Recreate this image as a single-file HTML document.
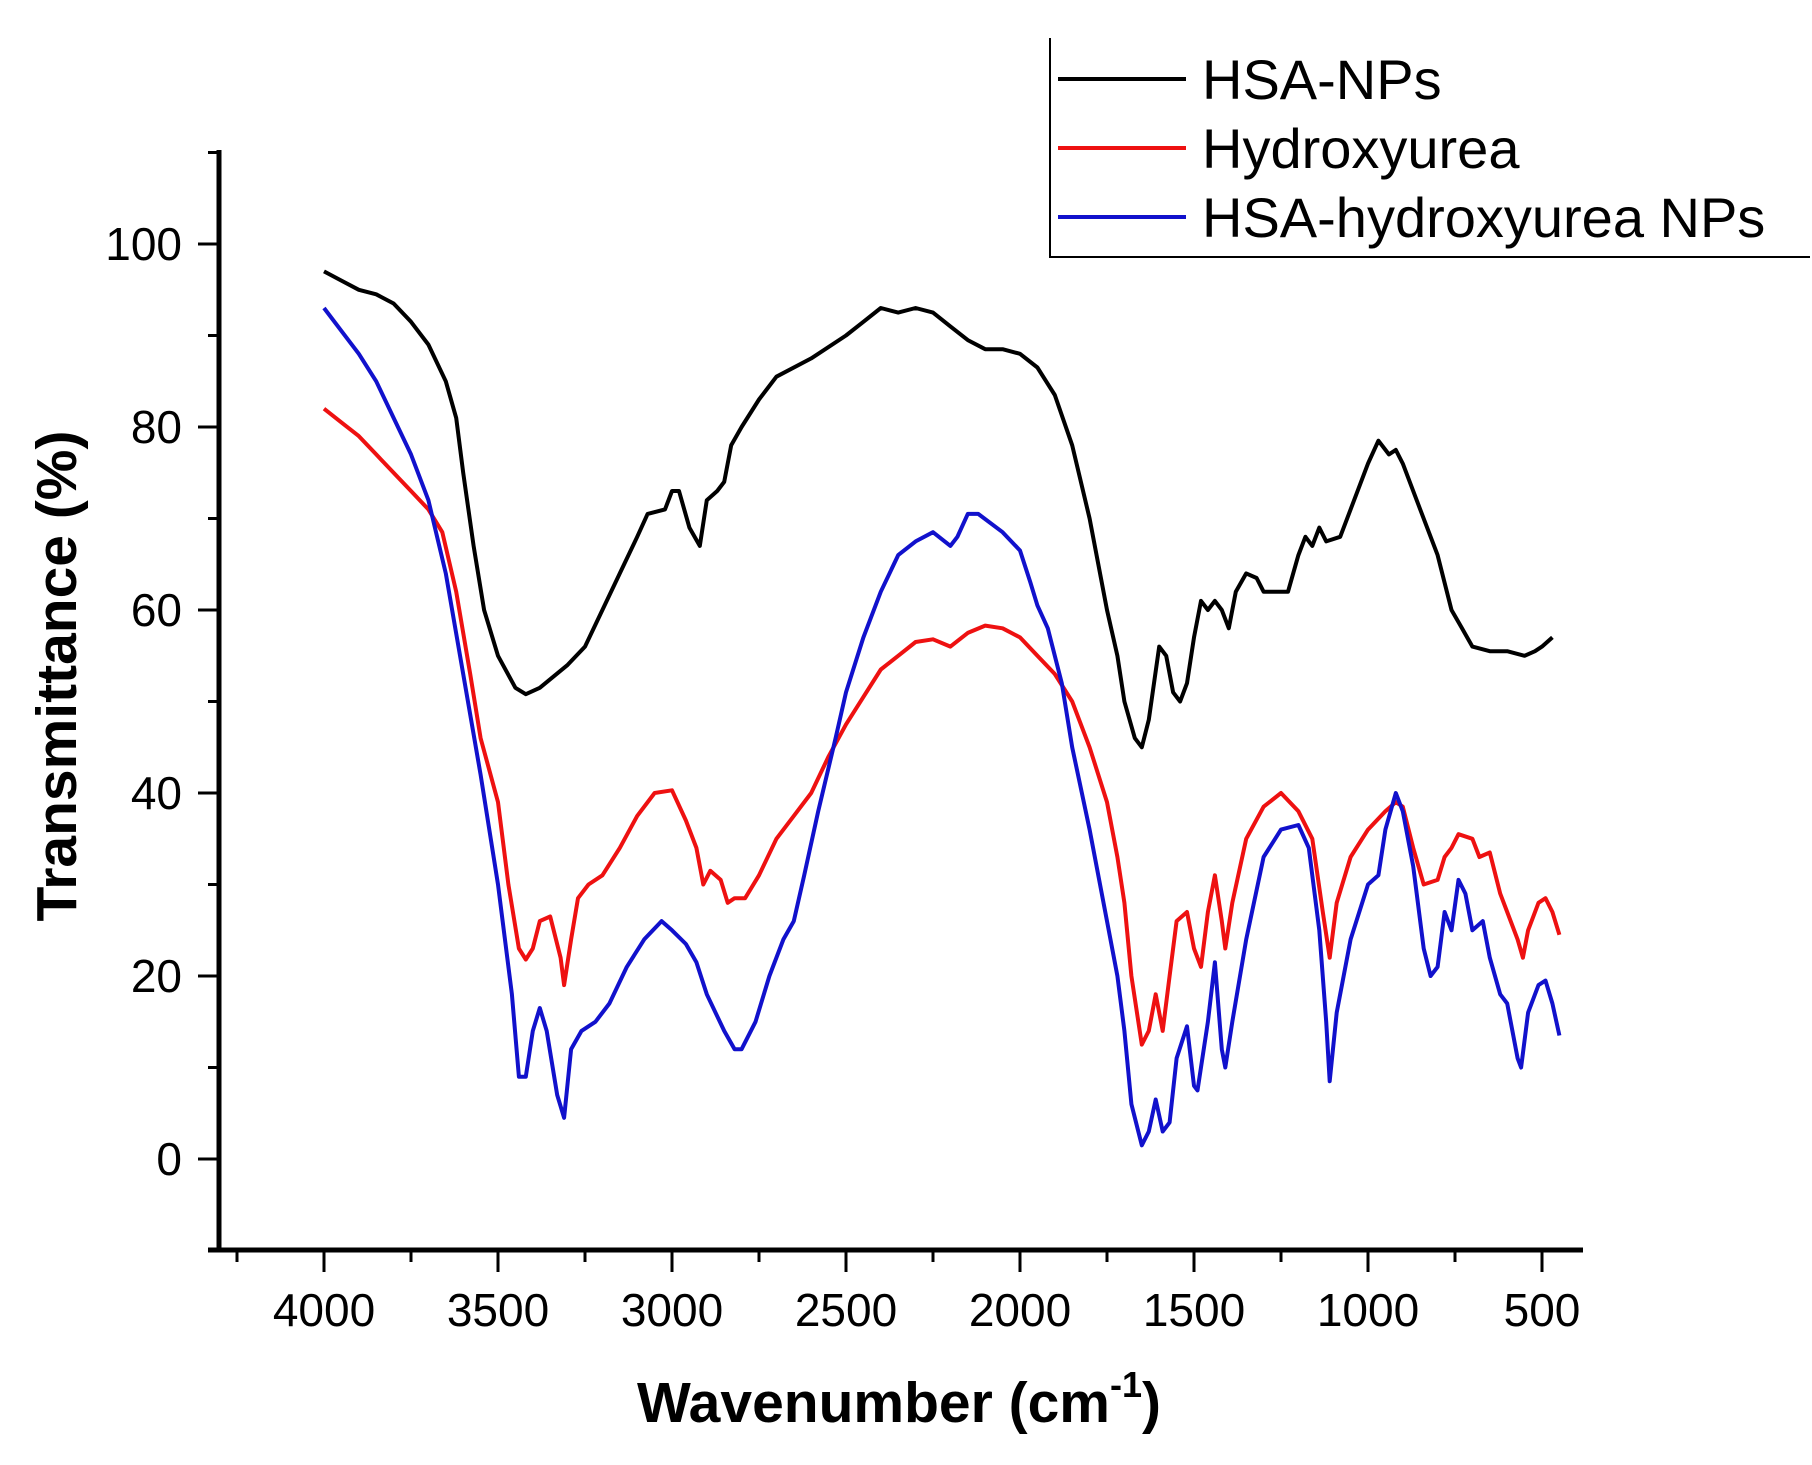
<!DOCTYPE html>
<html><head><meta charset="utf-8"><style>
html,body{margin:0;padding:0;background:#fff;}
svg{display:block;font-family:"Liberation Sans",Arial,sans-serif;}
</style></head><body>
<svg id="chart" width="1812" height="1465" viewBox="0 0 1812 1465" xmlns="http://www.w3.org/2000/svg">
<g id="axes"></g>
<g id="series"></g>
<g>
<line x1="1050" y1="38" x2="1050" y2="258" stroke="#000" stroke-width="2"/>
<line x1="1050" y1="257" x2="1810" y2="257" stroke="#000" stroke-width="2"/>
<line x1="1058" y1="79" x2="1186" y2="79" stroke="#000" stroke-width="4"/>
<text x="1202" y="99" font-size="56">HSA-NPs</text>
<line x1="1058" y1="148" x2="1186" y2="148" stroke="#ee1111" stroke-width="4"/>
<text x="1202" y="168" font-size="56">Hydroxyurea</text>
<line x1="1058" y1="217" x2="1186" y2="217" stroke="#1111cc" stroke-width="4"/>
<text x="1202" y="237" font-size="56">HSA-hydroxyurea NPs</text>
</g>
<text transform="translate(76,676) rotate(-90)" text-anchor="middle" font-size="57" font-weight="bold">Transmittance (%)</text>
<text x="899" y="1422" text-anchor="middle" font-size="57" font-weight="bold">Wavenumber (cm<tspan font-size="36" dy="-25">-1</tspan><tspan dy="25">)</tspan></text>
</svg>
<script>
const xTicks=[4000,3500,3000,2500,2000,1500,1000,500];
const yTicks=[0,20,40,60,80,100];
const wnHSA=[4000,3950,3900,3850,3800,3750,3700,3650,3620,3600,3570,3540,3500,3450,3420,3380,3300,3250,3200,3150,3100,3070,3020,3000,2980,2950,2920,2900,2870,2850,2830,2800,2750,2700,2600,2500,2450,2400,2350,2300,2250,2200,2150,2100,2050,2000,1950,1900,1850,1800,1750,1720,1700,1670,1650,1630,1600,1580,1560,1540,1520,1500,1480,1460,1440,1420,1400,1380,1350,1320,1300,1260,1230,1200,1180,1160,1140,1120,1080,1050,1000,970,940,920,900,850,800,760,730,700,650,600,550,520,500,470];
const tHSA=[97,96,95,94.5,93.5,91.5,89,85,81,75,67,60,55,51.5,50.8,51.5,54,56,60,64,68,70.5,71,73,73,69,67,72,73,74,78,80,83,85.5,87.5,90,91.5,93,92.5,93,92.5,91,89.5,88.5,88.5,88,86.5,83.5,78,70,60,55,50,46,45,48,56,55,51,50,52,57,61,60,61,60,58,62,64,63.5,62,62,62,66,68,67,69,67.5,68,71,76,78.5,77,77.5,76,71,66,60,58,56,55.5,55.5,55,55.5,56,57];
const wnHU=[4000,3950,3900,3850,3800,3750,3700,3660,3620,3580,3550,3500,3470,3440,3420,3400,3380,3350,3320,3310,3290,3270,3240,3200,3150,3100,3050,3000,2960,2930,2910,2890,2860,2840,2820,2790,2750,2700,2650,2600,2550,2500,2450,2400,2350,2300,2250,2200,2150,2100,2050,2000,1950,1900,1850,1800,1750,1720,1700,1680,1650,1630,1610,1590,1570,1550,1520,1500,1480,1460,1440,1420,1410,1390,1350,1300,1250,1200,1160,1130,1110,1090,1050,1000,950,920,900,870,840,800,780,760,740,700,680,650,620,600,570,555,540,510,490,470,450];
const tHU=[82,80.5,79,77,75,73,71,68.5,62,53,46,39,30,23,21.8,23,26,26.5,22,19,24,28.5,30,31,34,37.5,40,40.3,37,34,30,31.5,30.5,28,28.5,28.5,31,35,37.5,40,44,47.5,50.5,53.5,55,56.5,56.8,56,57.5,58.3,58,57,55,53,50,45,39,33,28,20,12.5,14,18,14,20,26,27,23,21,27,31,26,23,28,35,38.5,40,38,35,27,22,28,33,36,38,39,38.5,34,30,30.5,33,34,35.5,35,33,33.5,29,27,24,22,25,28,28.5,27,24.5];
const wnMix=[4000,3950,3900,3850,3800,3750,3700,3650,3600,3550,3500,3460,3440,3420,3400,3380,3360,3330,3310,3290,3260,3220,3180,3130,3080,3030,3000,2960,2930,2900,2850,2820,2800,2760,2720,2680,2650,2620,2580,2530,2500,2450,2400,2350,2300,2250,2200,2180,2150,2120,2050,2000,1970,1950,1920,1880,1850,1800,1750,1720,1700,1680,1650,1630,1610,1590,1570,1550,1520,1500,1490,1460,1440,1420,1410,1390,1350,1300,1250,1200,1170,1140,1120,1110,1090,1050,1000,970,950,920,900,870,840,820,800,780,760,740,720,700,670,650,620,600,570,560,540,510,490,470,450];
const tMix=[93,90.5,88,85,81,77,72,64,53,42,30,18,9,9,14,16.5,14,7,4.5,12,14,15,17,21,24,26,25,23.5,21.5,18,14,12,12,15,20,24,26,31,38,46,51,57,62,66,67.5,68.5,67,68,70.5,70.5,68.5,66.5,63,60.5,58,52,45,36,26,20,14,6,1.5,3,6.5,3,4,11,14.5,8,7.5,15,21.5,12,10,15,24,33,36,36.5,34,25,15,8.5,16,24,30,31,36,40,38,32,23,20,21,27,25,30.5,29,25,26,22,18,17,11,10,16,19,19.5,17,13.5];

const NS='http://www.w3.org/2000/svg';
function xs(wn){return 324+(4000-wn)*174/500;}
function ys(v){return 1159-v*9.15;}
function mk(tag,attrs,parent){const e=document.createElementNS(NS,tag);for(const k in attrs)e.setAttribute(k,attrs[k]);parent.appendChild(e);return e;}
const axes=document.getElementById('axes');
const yl=mk('line',{x1:219,y1:150,x2:219,y2:1252,stroke:'#000','stroke-width':5},axes);


const xl=mk('line',{x1:208,y1:1250,x2:1583,y2:1250,stroke:'#000','stroke-width':5},axes);


for(let wn=4250;wn>=500;wn-=250){
  const major=xTicks.indexOf(wn)>=0;
  const t=mk('line',{x1:xs(wn),y1:1250,x2:xs(wn),y2:major?1272:1262,stroke:'#000','stroke-width':3},axes);
  
  
}
xTicks.forEach(wn=>{
  const t=mk('text',{x:xs(wn),y:1326,'text-anchor':'middle','font-size':46},axes);
  t.textContent=wn;
  
  
});
for(let v=110;v>=-8;v-=10){
  const major=yTicks.indexOf(v)>=0;
  const t=mk('line',{x1:major?198:208,y1:ys(v),x2:219,y2:ys(v),stroke:'#000','stroke-width':3},axes);
  
  
}
yTicks.forEach(v=>{
  const t=mk('text',{x:182,y:ys(v)+16,'text-anchor':'end','font-size':46},axes);
  t.textContent=v;
  
  
});
const ser=document.getElementById('series');
function draw(wn,t,color,name){
  const d=wn.map((w,i)=>(i?'L':'M')+xs(w).toFixed(1)+' '+ys(t[i]).toFixed(1)).join(' ');
  const p=mk('path',{d:d,fill:'none',stroke:color,'stroke-width':4,'stroke-linejoin':'round'},ser);
  
  
}
draw(wnHSA,tHSA,'#000','series-hsa-nps');
draw(wnHU,tHU,'#ee1111','series-hydroxyurea');
draw(wnMix,tMix,'#1111cc','series-hsa-hydroxyurea-nps');
</script>
</body></html>
